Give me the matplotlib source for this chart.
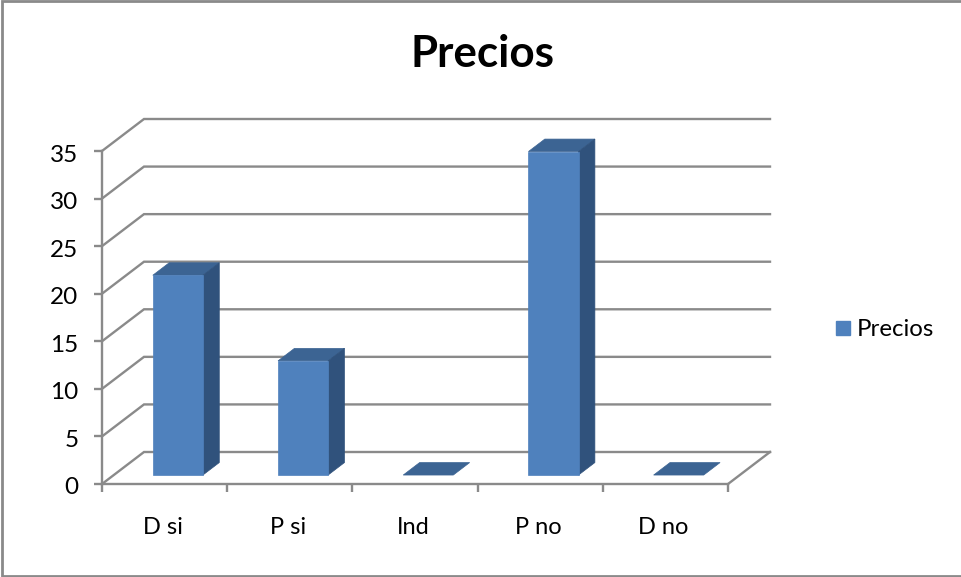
import matplotlib
matplotlib.use("Agg")
from matplotlib import pyplot as plt
from matplotlib.lines import Line2D
from matplotlib.patches import Patch, Polygon
from matplotlib.transforms import ScaledTranslation

# ------------------
# data
# ------------------
categories = ["D si", "P si", "Ind", "P no", "D no"]
values = [21, 12, 0, 34, 0]
y_ticks = [0, 5, 10, 15, 20, 25, 30, 35]
series_name = "Precios"

# ------------------
# style
# ------------------
W, H = 961, 577
FRONT = "#4F81BD"
SIDE = "#30527C"
TOP = "#3C6493"
LINE = "#8A8A8A"
TEXT = "#000000"
plt.rcParams["font.family"] = ["Lato", "DejaVu Sans"]

# depth of the floor in data units (x: categories, y: value)
DEPTH_X = 42 / 125.2
DEPTH_Y = 32 / (333 / 35)
BAR_W = 0.4
BAR_SHIFT = 0.012
BAR_D0, BAR_D1 = 0.28, 0.67


def proj(x, y, d):
    # oblique projection, d = 0 front plane, d = 1 back wall
    return (x + d * DEPTH_X, y + d * DEPTH_Y)


def bar3d(ax, x, h):
    x0, x1 = x - BAR_W / 2, x + BAR_W / 2
    top = [proj(x0, h, BAR_D0), proj(x1, h, BAR_D0), proj(x1, h, BAR_D1), proj(x0, h, BAR_D1)]
    ax.add_patch(Polygon(top, closed=True, fc=TOP, ec=TOP, lw=0.5, zorder=4, clip_on=False))
    if h <= 0:
        return
    side = [proj(x1, 0, BAR_D0), proj(x1, 0, BAR_D1), proj(x1, h, BAR_D1), proj(x1, h, BAR_D0)]
    ax.add_patch(Polygon(side, closed=True, fc=SIDE, ec=SIDE, lw=0.5, zorder=4, clip_on=False))
    front = [proj(x0, 0, BAR_D0), proj(x1, 0, BAR_D0), proj(x1, h, BAR_D0), proj(x0, h, BAR_D0)]
    ax.add_patch(Polygon(front, closed=True, fc=FRONT, ec=FRONT, lw=0.5, zorder=5, clip_on=False))


def main():
    fig = plt.figure(figsize=(W / 100, H / 100), dpi=100)
    ax = fig.add_axes([102 / W, 1 - 484 / H, 626 / W, 333 / H])
    n = len(categories)
    ax.set_xlim(0, n)
    ax.set_ylim(0, 35)
    ax.patch.set_alpha(0)

    # walls and floor
    for v in y_ticks:
        xs, ys = zip(proj(0, v, 0), proj(0, v, 1), proj(n, v, 1))
        ax.plot(xs, ys, color=LINE, lw=1.7, zorder=2, clip_on=False, solid_joinstyle="miter")
    xs, ys = zip(proj(n, 0, 0), proj(n, 0, 1))
    ax.plot(xs, ys, color=LINE, lw=1.7, zorder=2, clip_on=False)

    for i, h in enumerate(values):
        bar3d(ax, i + 0.5 + BAR_SHIFT, h)

    # axes
    for s in ("top", "right"):
        ax.spines[s].set_visible(False)
    for s in ("left", "bottom"):
        ax.spines[s].set_color(LINE)
        ax.spines[s].set_linewidth(1.7)
    ax.set_yticks(y_ticks)
    ax.set_xticks(range(n + 1))
    ax.set_xticklabels([""] * (n + 1))
    ax.tick_params(axis="both", color=LINE, width=1.7, length=6, labelsize=17.5, labelcolor=TEXT)
    ax.tick_params(axis="y", pad=11)
    shift = ScaledTranslation(0, -2 / 100, fig.dpi_scale_trans)
    for t in ax.get_yticklabels():
        t.set_transform(t.get_transform() + shift)
    for i, c in enumerate(categories):
        ax.annotate(c, (i + 0.5, 0), xytext=(-2, -43), textcoords="offset pixels",
                    ha="center", va="center", fontsize=17, color=TEXT)

    fig.text(483 / W, 1 - 54 / H, series_name, ha="center", va="center",
             fontsize=31.7, fontweight="bold", color=TEXT)

    fig.legend(handles=[Patch(fc=FRONT, ec=FRONT, label=series_name)],
               loc="center left", bbox_to_anchor=(814 / W, 1 - 330 / H), frameon=False,
               fontsize=17.3, handlelength=0.58, handleheight=0.58, handletextpad=0.3,
               labelcolor=TEXT)

    # chart area frame, open on the right
    frame_x = [960 / W, 2 / W, 2 / W, 960 / W]
    frame_y = [1 - 0.5 / H, 1 - 0.5 / H, 1 - 575.5 / H, 1 - 575.5 / H]
    fig.add_artist(Line2D(frame_x, frame_y, color=LINE, lw=2, transform=fig.transFigure,
                          solid_joinstyle="miter"))

    fig.savefig("out.png", dpi=100)


if __name__ == "__main__":
    main()
